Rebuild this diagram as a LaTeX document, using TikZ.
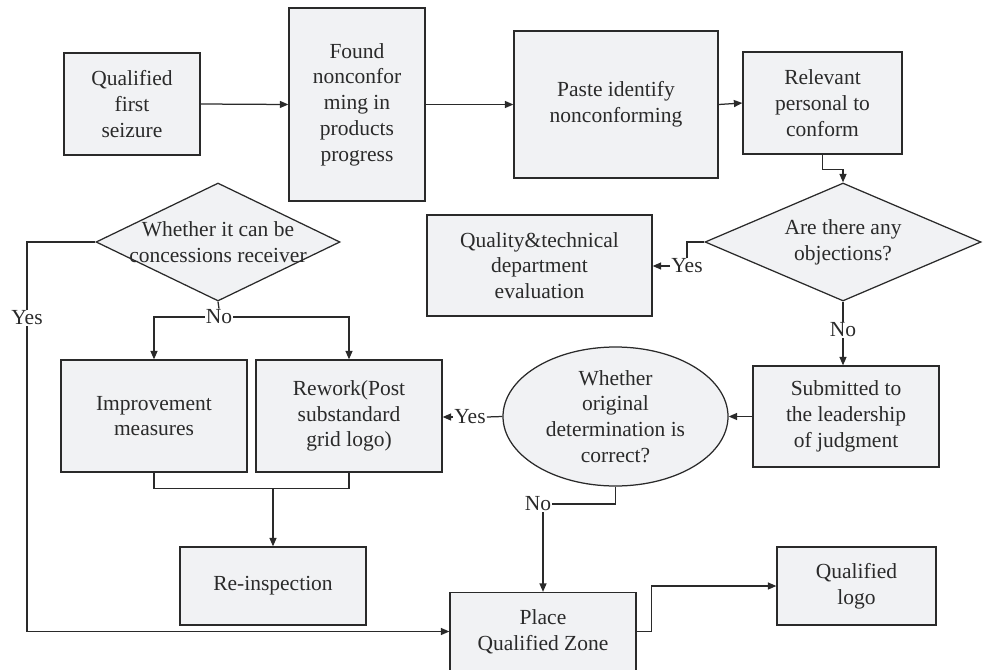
\documentclass[tikz,border=0pt]{standalone}
\usepackage{fontspec}
\setmainfont{Liberation Serif}
\usetikzlibrary{arrows.meta,shapes.geometric}
\definecolor{boxfill}{HTML}{F1F2F4}
\definecolor{ink}{HTML}{2A2A2A}
\begin{document}
\begin{tikzpicture}[x=1pt,y=-1pt,
  every node/.style={font=\fontsize{21.5}{25.7}\selectfont, text=ink},
  procbox/.style={draw=ink, fill=boxfill, line width=1.25pt, align=center, inner sep=0pt},
  decbox/.style={draw=ink, fill=boxfill, line width=1.25pt, diamond, inner sep=0pt},
  ovalbox/.style={draw=ink, fill=boxfill, line width=1.25pt, ellipse, inner sep=0pt, align=center},
  lbl/.style={inner sep=1pt},
  conn/.style={draw=ink, line width=1.25pt},
  arr/.style={conn, -{Triangle[length=8.5pt,width=7pt]}}]
\useasboundingbox (0,0) rectangle (984,669);

% process boxes
\node[procbox, minimum width=136, minimum height=102] (b1) at (132,104) {Qualified\\first\\seizure};
\node[procbox, minimum width=136, minimum height=193] (b2) at (357,104.5) {Found\\nonconfor\\ming in\\products\\progress};
\node[procbox, minimum width=204, minimum height=147] (b3) at (616,104.5) {Paste identify\\nonconforming};
\node[procbox, minimum width=159, minimum height=102] (b4) at (822.5,103) {Relevant\\personal to\\conform};
\node[decbox, minimum width=276, minimum height=118, label={[align=center,text=ink]center:Are there any\\objections?}] (d1) at (843,242) {};
\node[procbox, minimum width=225, minimum height=101] (qt) at (539.5,265.5) {Quality\&technical\\department\\evaluation};
\node[procbox, minimum width=186, minimum height=101] (sub) at (846,416.5) {Submitted to\\the leadership\\of judgment};
\node[ovalbox, minimum width=225, minimum height=139] (el) at (615.5,416.5) {Whether\\original\\determination is\\correct?};
\node[procbox, minimum width=186, minimum height=112] (rw) at (349,416) {Rework(Post\\substandard\\grid logo)};
\node[procbox, minimum width=186, minimum height=112] (im) at (154,416) {Improvement\\measures};
\node[decbox, minimum width=244, minimum height=118, label={[align=center,text=ink]center:Whether it can be\\concessions receiver}] (d2) at (218,242) {};
\node[procbox, minimum width=186, minimum height=78] (re) at (273,586) {Re-inspection};
\node[procbox, minimum width=186, minimum height=78] (pl) at (543,631.5) {Place\\Qualified Zone};
\node[procbox, minimum width=159, minimum height=78] (ql) at (856.5,586) {Qualified\\logo};

% labels
\node[lbl] (yes1) at (687,266) {Yes};
\node[lbl] (no1) at (843,330) {No};
\node[lbl] (yes2) at (470,417) {Yes};
\node[lbl] (no2) at (538,504) {No};
\node[lbl] (yes3) at (27,318) {Yes};
\node[lbl] (no3) at (219,317) {No};

% connectors
\draw[arr] (b1.east) -- (b2.west);
\draw[arr] (b2.east) -- (b3.west);
\draw[arr] (b3.east) -- (b4.west);
\draw[arr] (b4.south) -- ++(0,15) -| (d1.north);
\draw[conn] (d1.west) -| (yes1.north);
\draw[arr] (yes1.west) -- (yes1.west -| qt.east);
\draw[conn] (d1.south) -- (no1.north);
\draw[arr] (no1.south) -- (no1.south |- sub.north);
\draw[arr] (sub.west) -- (el.east);
\draw[conn] (el.west) -- (yes2.east);
\draw[arr] (yes2.west) -- (yes2.west -| rw.east);
\draw[conn] (el.south) |- (no2.east);
\draw[arr] (no2.south -| pl.north) -- (pl.north);
\draw[arr] (pl.east) -- ++(15,0) |- (ql.west);
\draw[conn] (d2.west) -| (yes3.north);
\draw[arr] (yes3.south) |- (pl.west);
\draw[conn] (d2.south) -- (no3.north);
\draw[arr] (no3.west) -| (im.north);
\draw[arr] (no3.east) -| (rw.north);
\draw[conn] (im.south) -- ++(0,16) coordinate (m) -| (rw.south);
\draw[arr] (m -| re.north) -- (re.north);
\end{tikzpicture}
\end{document}
